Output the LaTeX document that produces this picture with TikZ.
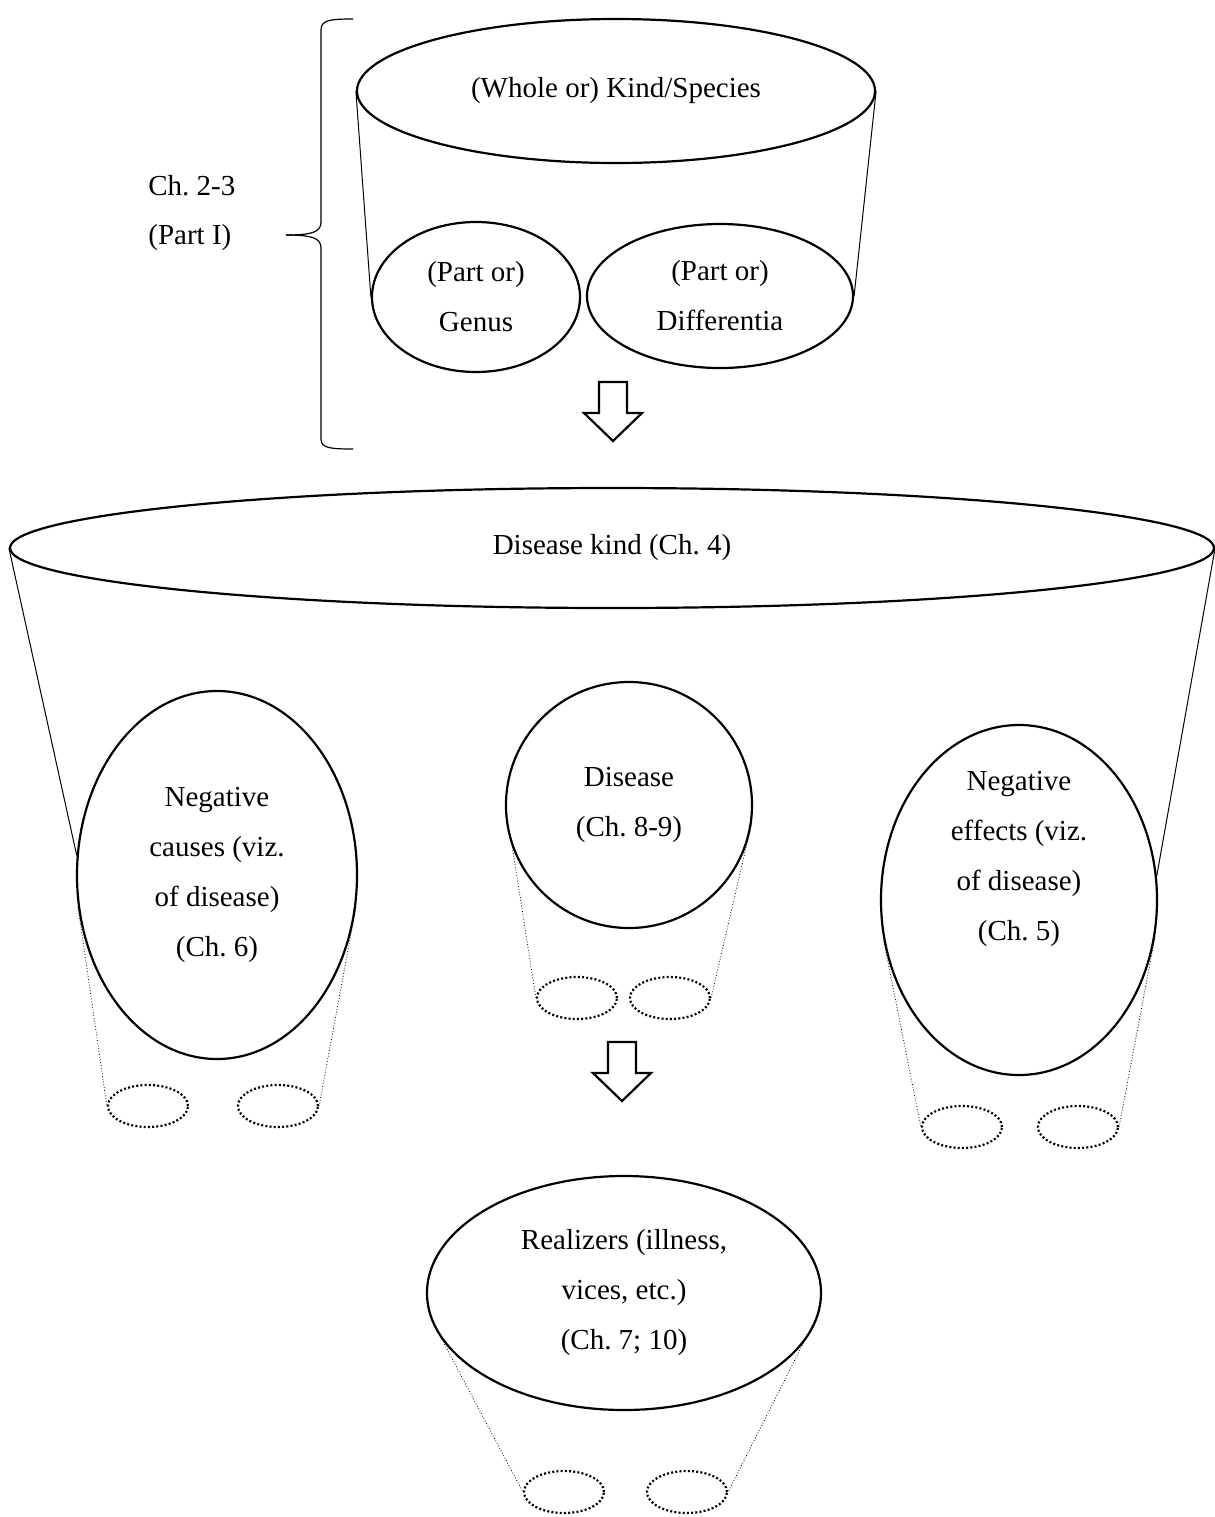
\documentclass[tikz,border=0pt]{standalone}
\usepackage{fontspec}
\setmainfont{Liberation Serif}
\usetikzlibrary{shapes.geometric}
\frenchspacing
\tikzset{
  oval/.style={ellipse, draw, line width=1.1pt, inner sep=0pt, align=center,
    font=\fontsize{14.5}{25}\selectfont},
  dotoval/.style={ellipse, draw, line width=1.1pt, dash pattern=on 1pt off 1.1pt,
    inner sep=0pt, minimum width=40pt, minimum height=21pt},
  cone/.style={line width=0.5pt},
  dotcone/.style={line width=0.4pt, densely dotted},
  txt/.style={font=\fontsize{14.5}{25}\selectfont, inner sep=0pt, align=center},
  blockarrow/.style={line width=1.1pt, fill=white, line join=miter}
}
\begin{document}
\begin{tikzpicture}[x=0.5pt,y=-0.5pt]
\useasboundingbox (0,0) rectangle (1215,1517);

% left labels and brace
\node[txt, anchor=west] (chA) at (148,186) {Ch. 2-3};
\node[txt, anchor=west] (chB) at (148,238) {(Part I)};
\coordinate (brtip) at (286,235);
\draw[line width=0.6pt] (353,19) .. controls (330,19) and (321,20) .. (321,30) -- (321,222)
  .. controls (321,232) and (312,235) .. (brtip);
\draw[line width=0.6pt] (brtip) .. controls (312,235) and (321,238) .. (321,248) -- (321,439)
  .. controls (321,448) and (330,449) .. (353,449);

% top group
\node[oval, minimum width=259pt, minimum height=72pt] (top) at (616,91) {(Whole or) Kind/Species};
\node[oval, minimum width=104pt, minimum height=75pt] (genus) at (476,297) {(Part or)\\Genus};
\node[oval, minimum width=133pt, minimum height=72pt] (diff) at (720,296) {(Part or)\\Differentia};
\draw[cone] (top.west) -- (genus.west);
\draw[cone] (top.east) -- (diff.east);

% arrow 1
\coordinate (a1) at (613,382);
\draw[blockarrow] (a1) ++(-14,0) -- ++(28,0) -- ++(0,31) -- ++(15,0) -- ++(-29,28) -- ++(-29,-28) -- ++(15,0) -- cycle;

% disease kind
\node[oval, minimum width=602pt, minimum height=60pt] (big) at (612,548) {Disease kind (Ch. 4)};
\node[oval, minimum width=140pt, minimum height=184pt] (causes) at (217,875)
  {Negative\\causes (viz.\\of disease)\\(Ch. 6)};
\node[oval, minimum width=123pt, minimum height=123pt] (disease) at (629,805) {Disease\\(Ch. 8-9)};
\node[oval, minimum width=138pt, minimum height=175pt] (effects) at (1019,900) {};
\node[txt] (effectsT) at (1019,859) {Negative\\effects (viz.\\of disease)\\(Ch. 5)};
\draw[cone] (big.west) -- (causes.172);
\draw[cone] (big.east) -- (effects.10);

% small dotted ovals
\node[dotoval] (c1) at (148,1106) {};
\node[dotoval] (c2) at (278,1106) {};
\node[dotoval] (d1) at (577,998) {};
\node[dotoval] (d2) at (670,998) {};
\node[dotoval] (e1) at (962,1127) {};
\node[dotoval] (e2) at (1078,1127) {};
\draw[dotcone] (causes.193) -- (c1.west);
\draw[dotcone] (causes.347) -- (c2.east);
\draw[dotcone] (disease.200) -- (d1.west);
\draw[dotcone] (disease.352) -- (d2.east);
\draw[dotcone] (effects.197) -- (e1.west);
\draw[dotcone] (effects.345) -- (e2.east);

% arrow 2
\coordinate (a2) at (622,1042);
\draw[blockarrow] (a2) ++(-14,0) -- ++(28,0) -- ++(0,31) -- ++(15,0) -- ++(-29,28) -- ++(-29,-28) -- ++(15,0) -- cycle;

% realizers
\node[oval, minimum width=197pt, minimum height=117pt] (real) at (624,1293)
  {Realizers (illness,\\vices, etc.)\\(Ch. 7; 10)};
\node[dotoval] (r1) at (564,1492) {};
\node[dotoval] (r2) at (687,1492) {};
\draw[dotcone] (real.187) -- (r1.west);
\draw[dotcone] (real.355) -- (r2.east);
\end{tikzpicture}
\end{document}
